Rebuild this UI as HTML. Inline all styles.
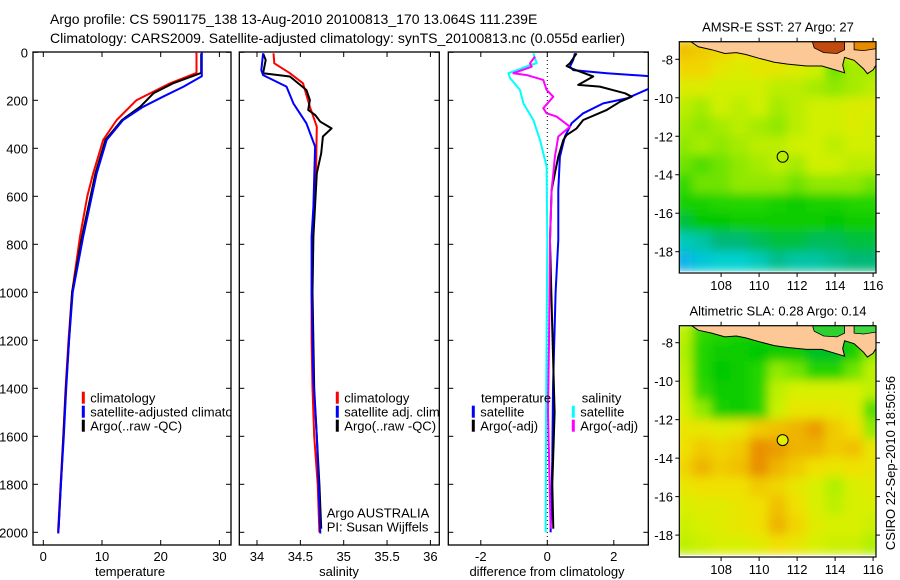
<!DOCTYPE html>
<html><head><meta charset="utf-8"><style>
html,body{margin:0;padding:0;background:#fff;}
svg{display:block;font-family:"Liberation Sans",Arial,sans-serif;}
</style></head><body>
<svg id="fig" width="900" height="580" viewBox="0 0 900 580" xmlns="http://www.w3.org/2000/svg">
<defs>
<filter id="smooth" x="0" y="0" width="1" height="1"><feGaussianBlur stdDeviation="5" edgeMode="duplicate"/></filter>
<clipPath id="clipT"><rect x="33" y="52" width="198" height="493"/></clipPath>
<clipPath id="clipS"><rect x="239.3" y="52" width="200" height="493"/></clipPath>
<clipPath id="clipD"><rect x="448.3" y="52" width="200" height="493"/></clipPath>
<clipPath id="clipM1"><rect x="679.3" y="41.7" width="196.7" height="231.6"/></clipPath>
<clipPath id="clipM2"><rect x="679.3" y="325.7" width="196.7" height="231"/></clipPath>
</defs>
<text x="50" y="24" font-size="14">Argo profile: CS 5901175_138 13-Aug-2010 20100813_170 13.064S 111.239E</text>
<text x="50" y="43" font-size="14">Climatology: CARS2009. Satellite-adjusted climatology: synTS_20100813.nc (0.055d earlier)</text>
<g id="g"></g>
</svg>
<script>
// ---------- Temperature panel data ----------
const tClimDepth=[0,50,86,129,199,282,365,504,600,768,1000,1200,1400,1600,1800,2000];
const tClim=[26.1,26.1,26.1,21.6,15.9,12.5,10.2,8.5,7.5,6.25,4.9,4.3,3.8,3.4,2.95,2.5];
const tSatDepth=[0,100,143,185,227,282,365,504,768,1000,1200,1400,1600,1800,2005];
const tSat=[27.0,27.0,23.9,20.4,17.0,13.6,10.8,9.1,6.8,5.0,4.4,3.9,3.5,3.0,2.55];
const tArgoDepth=[5,86,129,170,227,282,365,504,768,1000,1400,1800,1985];
const tArgo=[26.9,26.9,22.1,18.8,16.5,13.4,10.6,8.9,6.6,4.9,3.85,3.0,2.6];
const tTicks=[0,10,20,30];
// ---------- Salinity panel data ----------
const sClimDepth=[4,46,87,129,227,310,504,800,1000,1200,1400,1600,1800,2000];
const sClim=[34.19,34.2,34.38,34.53,34.61,34.69,34.68,34.64,34.63,34.63,34.64,34.66,34.7,34.72];
const sSatDepth=[4,40,74,95,143,213,296,393,643,768,1000,1366,1600,1800,2005];
const sSat=[34.07,34.06,34.05,34.07,34.34,34.42,34.57,34.67,34.65,34.63,34.63,34.65,34.69,34.71,34.73];
const sArgoDepth=[5,32,87,101,157,199,240,261,289,317,351,421,504,768,1000,1400,1800,1985];
const sArgo=[34.07,34.1,34.07,34.38,34.57,34.61,34.59,34.67,34.73,34.86,34.76,34.74,34.69,34.65,34.64,34.66,34.72,34.74];
const sTicks=[34,34.5,35,35.5,36];
// ---------- Difference panel data ----------
const dTSatDepth=[4,32,60,74,87,101,120,143,192,213,254,296,351,435,574,782,1000,1400,1700,2000];
const dTSat=[0.83,0.78,0.68,0.78,1.79,3.2,3.4,3.2,2.39,1.68,1.08,0.73,0.53,0.38,0.33,0.33,0.25,0.17,0.15,0.1];
const dTArgoDepth=[4,46,57,70,101,136,143,171,185,206,227,240,282,317,345,366,435,504,574,782,1000,1500,1800,1985];
const dTArgo=[0.88,0.68,0.58,0.78,1.38,0.93,1.58,2.34,2.54,2.19,1.94,1.79,1.08,0.88,0.58,0.48,0.33,0.23,0.13,0.08,0.12,0.22,0.15,0.18];
const dSSatDepth=[4,46,53,70,87,108,157,213,282,365,476,782,1200,1600,2000];
const dSSat=[-0.42,-0.32,-0.52,-0.82,-1.17,-1.12,-0.82,-0.72,-0.42,-0.22,-0.02,0.0,-0.02,-0.04,-0.05];
const dSArgoDepth=[18,46,60,87,95,115,157,185,233,254,268,310,351,435,504,574,782,1200,1500,1985];
const dSArgo=[-0.37,-0.52,-0.47,-1.02,-0.62,-0.12,-0.02,0.18,-0.12,-0.02,0.28,0.68,0.33,0.23,0.18,0.13,0.08,0.05,0.02,0.1];
const dTicks=[-2,0,2];
const depthTicks=[0,200,400,600,800,1000,1200,1400,1600,1800,2000];
// ---------- Map data (1 degree cells, lon 106..116, lat -7.5..-18.5) ----------
const mapLons=[106,107,108,109,110,111,112,113,114,115,116];
const mapLats=[-7.5,-8.5,-9.5,-10.5,-11.5,-12.5,-13.5,-14.5,-15.5,-16.5,-17.5,-18.5];
const sstGrid=[
[27.8,27.7,27.6,27.5,27.4,27.3,27.3,27.2,27.2,27.2,27.2],
[27.6,27.6,27.4,27.3,27.4,27.4,27.3,27.2,26.8,27.0,27.0],
[27.3,27.3,27.2,27.2,27.2,27.1,27.1,27.0,26.9,27.0,27.1],
[27.1,27.0,27.2,27.1,27.2,27.0,27.1,27.2,27.2,27.3,27.3],
[27.0,26.9,27.0,27.1,27.0,26.9,27.1,27.2,27.2,27.3,27.2],
[26.9,27.0,26.9,27.0,27.1,27.1,27.2,27.2,27.1,27.2,27.2],
[26.8,26.7,26.8,26.9,27.0,27.1,27.0,27.2,27.2,27.1,27.1],
[26.6,26.8,26.8,26.9,26.9,26.9,26.8,26.9,26.9,26.9,26.8],
[26.4,26.4,26.5,26.5,26.5,26.4,26.3,26.4,26.4,26.5,26.5],
[26.0,26.2,26.2,26.3,26.3,26.3,26.3,26.3,26.2,26.3,26.3],
[25.5,25.6,25.8,25.8,25.9,26.0,26.0,25.9,25.9,26.0,26.0],
[25.1,25.3,25.4,25.4,25.5,25.7,25.6,25.6,25.7,25.8,25.8]];
const slaGrid=[
[0.20,0.15,0.14,0.13,0.13,0.14,0.14,0.12,0.12,0.14,0.16],
[0.19,0.14,0.12,0.12,0.11,0.12,0.12,0.10,0.10,0.13,0.18],
[0.20,0.14,0.11,0.12,0.14,0.18,0.17,0.14,0.14,0.17,0.20],
[0.21,0.15,0.12,0.12,0.14,0.20,0.22,0.22,0.22,0.22,0.20],
[0.22,0.18,0.13,0.12,0.14,0.21,0.24,0.24,0.24,0.23,0.16],
[0.24,0.24,0.23,0.24,0.27,0.28,0.29,0.31,0.27,0.25,0.18],
[0.25,0.27,0.26,0.27,0.33,0.31,0.29,0.29,0.27,0.28,0.24],
[0.26,0.29,0.27,0.28,0.32,0.29,0.27,0.25,0.24,0.25,0.24],
[0.24,0.25,0.25,0.25,0.27,0.26,0.24,0.22,0.19,0.22,0.23],
[0.22,0.23,0.23,0.24,0.25,0.28,0.25,0.22,0.20,0.22,0.22],
[0.21,0.22,0.23,0.24,0.25,0.29,0.26,0.23,0.22,0.22,0.21],
[0.20,0.21,0.22,0.22,0.23,0.25,0.24,0.22,0.21,0.21,0.19]];
const argoLon=111.239, argoLat=-13.064;
const lonTicks=[108,110,112,114,116];
const latTicks=[-8,-10,-12,-14,-16,-18];

const NS='http://www.w3.org/2000/svg';
const G=document.getElementById('g');
function mk(tag,attrs,parent){const e=document.createElementNS(NS,tag);for(const k in attrs)e.setAttribute(k,attrs[k]);(parent||G).appendChild(e);return e;}

const TOP=52.3, BOT=545, DS=0.24;
const yD=d=>TOP+d*DS;
const xT=v=>43.3+(v-0)*5.87;
const xS=v=>257+(v-34)*86.7;
const xDf=v=>547.3+v*33.25;

function panel(name,x0,x1,xf,ticks,clip,label,labelX){
  const g=mk('g',{});
  
  
  const fr=mk('rect',{x:x0,y:52,width:x1-x0,height:BOT-52,fill:'none',stroke:'#000','stroke-width':1.3},g);
  
  
  ticks.forEach(t=>{
    const x=xf(t);
    mk('line',{x1:x,x2:x,y1:BOT,y2:BOT-5,stroke:'#000'},g);
    mk('line',{x1:x,x2:x,y1:52,y2:57,stroke:'#000'},g);
    const tx=mk('text',{x:x,y:561,'font-size':13,'text-anchor':'middle'},g);
    tx.textContent=String(t);
    
    
  });
  depthTicks.forEach(d=>{
    const y=yD(d);
    mk('line',{x1:x0,x2:x0+5,y1:y,y2:y,stroke:'#000'},g);
    mk('line',{x1:x1,x2:x1-5,y1:y,y2:y,stroke:'#000'},g);
  });
  const lt=mk('text',{x:labelX,y:576,'font-size':13,'text-anchor':'middle'},g);
  lt.textContent=label;
  
  
  const pg=mk('g',{'clip-path':'url(#'+clip+')'},g);
  return pg;
}
function line(pg,xf,vals,depths,color,name,w){
  const pts=vals.map((v,i)=>xf(v).toFixed(1)+','+yD(depths[i]).toFixed(1)).join(' ');
  const p=mk('polyline',{points:pts,fill:'none',stroke:color,'stroke-width':w||2,'stroke-linejoin':'round'},pg);
  
  
}
function legend(pg,x,y,color,text,name){
  mk('rect',{x:x-1.5,y:y-6,width:3,height:12,fill:color},pg);
  const t=mk('text',{x:x+7,y:y+5,'font-size':13},pg);
  t.textContent=text;
  
  
}

depthTicks.forEach(d=>{
  const t=mk('text',{x:28,y:yD(d)+5,'font-size':13,'text-anchor':'end'});
  t.textContent=String(d);
  
  
});

let p=panel('temperature',33,231,xT,tTicks,'clipT','temperature',130);
line(p,xT,tClim,tClimDepth,'#f00','temp-climatology-line');
line(p,xT,tArgo,tArgoDepth,'#000','temp-argo-line');
line(p,xT,tSat,tSatDepth,'#00f','temp-satellite-line');
legend(p,83.3,397.7,'#f00','climatology','legend-climatology');
legend(p,83.3,411.7,'#00f','satellite-adjusted climatology','legend-satellite-adjusted');
legend(p,83.3,425.7,'#000','Argo(..raw -QC)','legend-argo');

p=panel('salinity',239.3,439.3,xS,sTicks,'clipS','salinity',339);
line(p,xS,sClim,sClimDepth,'#f00','sal-climatology-line');
line(p,xS,sArgo,sArgoDepth,'#000','sal-argo-line');
line(p,xS,sSat,sSatDepth,'#00f','sal-satellite-line');
legend(p,337.3,397.7,'#f00','climatology','legend-climatology');
legend(p,337.3,411.7,'#00f','satellite adj. clim.','legend-satellite-adj');
legend(p,337.3,425.7,'#000','Argo(..raw -QC)','legend-argo');
let t=mk('text',{x:326.7,y:517.5,'font-size':13},p);t.textContent='Argo AUSTRALIA';


t=mk('text',{x:326.7,y:531.5,'font-size':13},p);t.textContent='PI: Susan Wijffels';



p=panel('difference',448.3,648.3,xDf,dTicks,'clipD','difference from climatology',547);
mk('line',{x1:xDf(0),x2:xDf(0),y1:52,y2:BOT,stroke:'#000','stroke-dasharray':'1,3','stroke-width':1},p);
line(p,xDf,dTSat,dTSatDepth,'#00f','diff-temp-satellite-line');
line(p,xDf,dTArgo,dTArgoDepth,'#000','diff-temp-argo-line');
line(p,xDf,dSSat,dSSatDepth,'#0ff','diff-sal-satellite-line');
line(p,xDf,dSArgo,dSArgoDepth,'#f0f','diff-sal-argo-line');
t=mk('text',{x:481,y:402.7,'font-size':13},p);t.textContent='temperature';


legend(p,473.3,411.7,'#00f','satellite','legend-temp-satellite');
legend(p,473.3,425.7,'#000','Argo(-adj)','legend-temp-argo');
t=mk('text',{x:581.7,y:402.7,'font-size':13},p);t.textContent='salinity';


legend(p,573.3,411.7,'#0ff','satellite','legend-sal-satellite');
legend(p,573.3,425.7,'#f0f','Argo(-adj)','legend-sal-argo');

function ramp(stops,v){
  if(v<=stops[0][0])return 'rgb('+stops[0][1].join(',')+')';
  for(let i=1;i<stops.length;i++){
    if(v<=stops[i][0]){
      const a=stops[i-1],b=stops[i],f=(v-a[0])/(b[0]-a[0]);
      const c=[0,1,2].map(k=>Math.round(a[1][k]+(b[1][k]-a[1][k])*f));
      return 'rgb('+c.join(',')+')';
    }
  }
  const l=stops[stops.length-1][1];return 'rgb('+l.join(',')+')';
}
const sstStops=[[25.0,[16,168,240]],[25.4,[0,208,208]],[25.8,[0,184,120]],[26.2,[0,200,0]],[26.6,[48,216,0]],[26.9,[144,232,0]],[27.2,[208,240,0]],[27.5,[240,224,0]],[27.8,[240,192,0]],[28.2,[224,128,0]]];
const slaStops=[[0.08,[0,176,96]],[0.11,[0,200,0]],[0.15,[48,216,0]],[0.19,[176,240,0]],[0.22,[216,240,0]],[0.25,[240,224,0]],[0.28,[240,192,0]],[0.32,[232,144,0]]];
const coast=[[105.8,-7.08],[106.4,-7.08],[106.8,-7.35],[107.5,-7.5],[108.2,-7.7],[108.8,-7.65],[109.3,-7.75],[110,-7.95],[110.8,-8.15],[111.5,-8.25],[112.5,-8.35],[113.3,-8.35],[114,-8.55],[114.5,-8.7],[114.4,-8.3],[114.5,-7.9],[115,-8.05],[115.5,-8.5],[115.7,-8.75],[116.0,-8.55],[116.15,-8.3],[116.15,-7.08]];
const strait=[[112.8,-7.08],[112.9,-7.4],[113.4,-7.65],[114.1,-7.7],[114.5,-7.5],[114.5,-7.08]];
const straitB=[[115.0,-7.08],[115.0,-7.5],[115.5,-7.55],[116.15,-7.45],[116.15,-7.08]];

function drawMap(name,top,lat8y,grid,stops,straitColor,straitColor2,circFill,title,bottomLabelY,clip){
  const X=lon=>679.3+(lon-105.8)*19.0;
  const Y=lat=>lat8y+(-8-lat)*19.24;
  const g=mk('g',{});
  
  
  const tt=mk('text',{x:778,y:top-10,'font-size':13,'text-anchor':'middle'},g);
  tt.textContent=title;
  
  
  const cg=mk('g',{'clip-path':'url(#'+clip+')'},g);
  const hg=mk('g',{filter:'url(#smooth)'},cg);
  mapLats.forEach((lat,r)=>{
    mapLons.forEach((lon,c)=>{
      const cell=mk('rect',{x:X(lon-0.5)-0.5,y:Y(lat+0.5)-0.5,width:20,height:20.3,fill:ramp(stops,grid[r][c])},hg);
      
      
    });
  });
  const land=mk('polygon',{points:coast.map(p=>X(p[0]).toFixed(1)+','+Y(p[1]).toFixed(1)).join(' '),fill:'#fcc896',stroke:'#000','stroke-width':1},cg);
  
  
  const st=mk('polygon',{points:strait.map(p=>X(p[0]).toFixed(1)+','+Y(p[1]).toFixed(1)).join(' '),fill:straitColor,stroke:'#000','stroke-width':0.8},cg);
  
  
  const st2=mk('polygon',{points:straitB.map(p=>X(p[0]).toFixed(1)+','+Y(p[1]).toFixed(1)).join(' '),fill:straitColor2,stroke:'#000','stroke-width':0.8},cg);
  
  
  const circ=mk('circle',{cx:X(argoLon),cy:Y(argoLat),r:5.5,fill:circFill,stroke:'#000','stroke-width':1},g);
  
  
  const bottom=top+231.3;
  mk('rect',{x:679.3,y:top,width:196.7,height:231.3,fill:'none',stroke:'#000','stroke-width':1.2},g);
  lonTicks.forEach(l=>{
    const x=X(l);
    mk('line',{x1:x,x2:x,y1:top,y2:top-4,stroke:'#000'},g);
    mk('line',{x1:x,x2:x,y1:bottom,y2:bottom+4,stroke:'#000'},g);
    const lt=mk('text',{x:x,y:bottomLabelY,'font-size':13,'text-anchor':'middle'},g);
    lt.textContent=String(l);
    
    
  });
  latTicks.forEach(l=>{
    const y=Y(l);
    mk('line',{x1:679.3,x2:675.3,y1:y,y2:y,stroke:'#000'},g);
    mk('line',{x1:876,x2:880,y1:y,y2:y,stroke:'#000'},g);
    const lt=mk('text',{x:673,y:y+5,'font-size':13,'text-anchor':'end'},g);
    lt.textContent=String(l);
    
    
  });
}
drawMap('sst',41.7,59.3,sstGrid,sstStops,'#c04a10','#e88a00','none','AMSR-E SST: 27 Argo: 27',290,'clipM1');
drawMap('sla',325.7,342.7,slaGrid,slaStops,'#30d030','#40d840','#e0f000','Altimetric SLA: 0.28 Argo: 0.14',574,'clipM2');

t=mk('text',{x:0,y:0,'font-size':13,'text-anchor':'middle',transform:'translate(895,463) rotate(-90)'});
t.textContent='CSIRO 22-Sep-2010 18:50:56';


</script>
</body></html>
